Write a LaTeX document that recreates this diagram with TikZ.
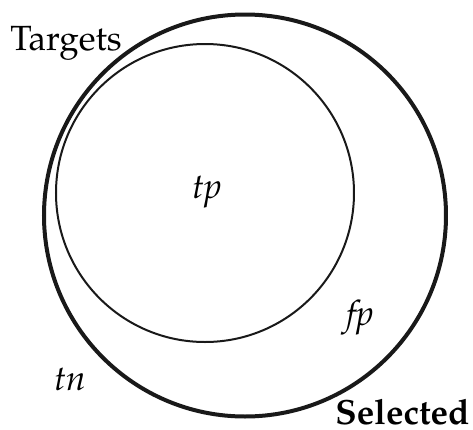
\documentclass[tikz,border=0pt]{standalone}
\usepackage[T1]{fontenc}
\usepackage{mathpazo}
\usetikzlibrary{positioning}
\tikzstyle{setcirc}=[circle, draw=black!90, inner sep=0pt]
\tikzstyle{lbl}=[inner sep=0pt, font=\fontsize{17.5}{20}\selectfont]
\begin{document}
\begin{tikzpicture}[x=0.5pt, y=-0.5pt]
\useasboundingbox (0,0) rectangle (473,430);
% the two sets
\node (selected) [setcirc, line width=2pt, minimum size=201pt] at (245,215.5) {};
\node (targets) [setcirc, line width=1pt, minimum size=149pt] at (205,193) {};
% labels
\node (tlabel) [lbl, anchor=base west] at (10,50) {Targets};
\node (slabel) [lbl, anchor=base east, font=\fontsize{17.5}{20}\selectfont\bfseries] at (470,424) {Selected};
\node (tp) [lbl, anchor=base] at (207,198) {\textit{tp}};
\node (fp) [lbl, anchor=base] at (360,325) {\textit{fp}};
\node (tn) [lbl, anchor=base] at (70,390) {\textit{tn}};
\end{tikzpicture}
\end{document}
